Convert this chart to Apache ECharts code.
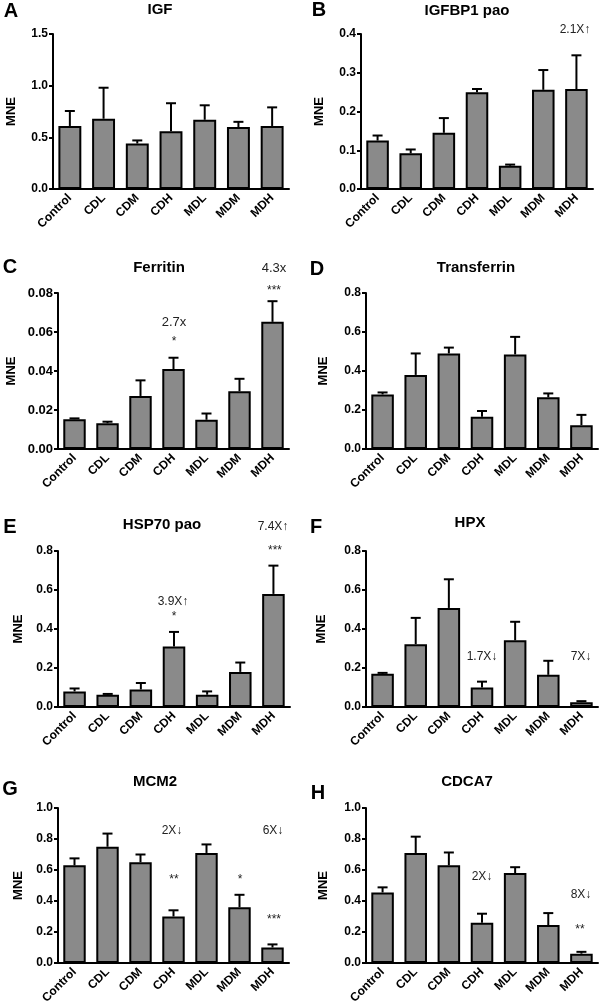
<!DOCTYPE html>
<html>
<head>
<meta charset="utf-8">
<title>MNE panels</title>
<script src="https://cdn.jsdelivr.net/npm/echarts@6/dist/echarts.min.js"></script>
<style>
  html, body { margin: 0; padding: 0; background: #fff; }
  #main { width: 600px; height: 1008px; }
</style>
</head>
<body>
<div id="main"></div>
<script>
// groups on the x axis
var categories = ['Control', 'CDL', 'CDM', 'CDH', 'MDL', 'MDM', 'MDH'];

// bar heights (mean) and top of error bar
var igfMean = [0.61, 0.68, 0.44, 0.56, 0.67, 0.60, 0.61];
var igfTop = [0.755, 0.98, 0.47, 0.83, 0.81, 0.65, 0.79];

var igfbp1Mean = [0.125, 0.092, 0.145, 0.250, 0.060, 0.256, 0.258];
var igfbp1Top = [0.138, 0.102, 0.183, 0.258, 0.063, 0.307, 0.345];

var ferritinMean = [0.0153, 0.0132, 0.0272, 0.0410, 0.0150, 0.0296, 0.0652];
var ferritinTop = [0.0157, 0.0140, 0.0352, 0.0468, 0.0182, 0.0360, 0.0758];

var transferrinMean = [0.28, 0.38, 0.49, 0.165, 0.485, 0.265, 0.122];
var transferrinTop = [0.29, 0.49, 0.52, 0.195, 0.575, 0.285, 0.175];

var hsp70Mean = [0.080, 0.063, 0.090, 0.310, 0.063, 0.180, 0.580];
var hsp70Top = [0.095, 0.067, 0.123, 0.385, 0.080, 0.228, 0.725];

var hpxMean = [0.170, 0.322, 0.508, 0.100, 0.342, 0.165, 0.025];
var hpxTop = [0.175, 0.457, 0.655, 0.130, 0.437, 0.237, 0.030];

var mcm2Mean = [0.63, 0.75, 0.65, 0.30, 0.71, 0.36, 0.10];
var mcm2Top = [0.675, 0.835, 0.70, 0.34, 0.765, 0.44, 0.12];

var cdca7Mean = [0.455, 0.71, 0.63, 0.26, 0.58, 0.245, 0.06];
var cdca7Top = [0.488, 0.815, 0.713, 0.318, 0.618, 0.322, 0.072];

// y axis scales
var yMax = [1.5, 0.4, 0.08, 0.8, 0.8, 0.8, 1.0, 1.0];
var yStep = [0.5, 0.1, 0.02, 0.2, 0.2, 0.2, 0.2, 0.2];
var yDecimals = [1, 1, 2, 1, 1, 1, 1, 1];

var titles = ['IGF', 'IGFBP1 pao', 'Ferritin', 'Transferrin', 'HSP70 pao', 'HPX', 'MCM2', 'CDCA7'];
var letters = ['A', 'B', 'C', 'D', 'E', 'F', 'G', 'H'];

var means = [igfMean, igfbp1Mean, ferritinMean, transferrinMean, hsp70Mean, hpxMean, mcm2Mean, cdca7Mean];
var tops = [igfTop, igfbp1Top, ferritinTop, transferrinTop, hsp70Top, hpxTop, mcm2Top, cdca7Top];

// layout of each panel: plot box left, top, width, height
var boxes = [
  [53, 34, 236, 155],
  [361, 34, 232, 155],
  [58, 293, 231, 156],
  [366, 293, 232, 156],
  [58, 551, 232, 156],
  [366, 551, 232, 156],
  [58, 808, 231, 155],
  [366, 808, 232, 155]
];
var nameGaps = [35, 35, 40, 36, 33, 38, 33, 36];
var tickFont = [12, 12, 13, 12, 12, 12, 12, 12];
var letterPos = [[11, 11], [319, 10], [10, 267], [317, 269], [10, 527], [316, 527], [10, 789], [318, 793]];
var titlePos = [[160, 10], [467, 11], [159, 268], [476, 268], [162, 525], [470, 523], [155, 782], [467, 782]];

// fold-change and significance notes: [x, y, text, size]
var notes = [
  [575, 30, '2.1X\u2191', 12],
  [274, 268, '4.3x', 13], [274, 291, '***', 12], [174, 322, '2.7x', 13], [174, 342, '*', 12],
  [273, 527, '7.4X\u2191', 12], [275, 551, '***', 12], [173, 602, '3.9X\u2191', 12], [174, 617, '*', 12],
  [482, 657, '1.7X\u2193', 12], [581, 657, '7X\u2193', 12],
  [172, 831, '2X\u2193', 12], [273, 831, '6X\u2193', 12], [174, 880, '**', 12], [240, 880, '*', 12], [274, 920, '***', 12],
  [482, 877, '2X\u2193', 12], [581, 895, '8X\u2193', 12], [580, 930, '**', 12]
];

var font = '"Liberation Sans", Arial, sans-serif';

var grids = [], xAxes = [], yAxes = [], series = [], graphics = [];

for (var i = 0; i < 8; i++) {
  var b = boxes[i];
  grids.push({ left: b[0], top: b[1], width: b[2], height: b[3], containLabel: false });
  xAxes.push({
    type: 'category',
    gridIndex: i,
    data: categories,
    axisLine: { lineStyle: { color: '#000', width: 2 } },
    axisTick: { alignWithLabel: true, length: 5, lineStyle: { color: '#000', width: 2 } },
    axisLabel: {
      interval: 0, rotate: 45, margin: 7, color: '#000',
      fontFamily: font, fontWeight: 'bold', fontSize: 12
    },
    splitLine: { show: false }
  });
  (function (dec) {
    yAxes.push({
      type: 'value',
      gridIndex: i,
      min: 0,
      max: yMax[i],
      interval: yStep[i],
      name: 'MNE',
      nameLocation: 'middle',
      nameGap: nameGaps[i],
      nameRotate: 90,
      nameTextStyle: { color: '#000', fontFamily: font, fontWeight: 'bold', fontSize: 13 },
      axisLine: { show: true, lineStyle: { color: '#000', width: 2 } },
      axisTick: { show: true, length: 4, lineStyle: { color: '#000', width: 2 } },
      axisLabel: {
        margin: 5, color: '#000', fontFamily: font, fontWeight: 'bold', fontSize: tickFont[i],
        formatter: function (v) { return v.toFixed(dec); }
      },
      splitLine: { show: false }
    });
  })(yDecimals[i]);

  series.push({
    type: 'bar',
    xAxisIndex: i,
    yAxisIndex: i,
    data: means[i],
    barWidth: '68%',
    itemStyle: { color: '#8a8a8a', borderColor: '#000', borderWidth: 2 },
    z: 3
  });

  (function (m, t) {
    series.push({
      type: 'custom',
      xAxisIndex: i,
      yAxisIndex: i,
      data: t.map(function (v, k) { return [k, m[k], v]; }),
      z: 2,
      renderItem: function (params, api) {
        var base = api.coord([api.value(0), api.value(1)]);
        var top = api.coord([api.value(0), api.value(2)]);
        var x = base[0];
        var st = { stroke: '#000', lineWidth: 2 };
        return {
          type: 'group',
          children: [
            { type: 'line', shape: { x1: x, y1: base[1], x2: x, y2: top[1] }, style: st },
            { type: 'line', shape: { x1: x - 5, y1: top[1], x2: x + 5, y2: top[1] }, style: st }
          ]
        };
      }
    });
  })(means[i], tops[i]);

  graphics.push({
    type: 'text', x: letterPos[i][0], y: letterPos[i][1],
    style: { text: letters[i], font: 'bold 20px ' + font, fill: '#000', textAlign: 'center', textVerticalAlign: 'middle' }
  });
  graphics.push({
    type: 'text', x: titlePos[i][0], y: titlePos[i][1],
    style: { text: titles[i], font: 'bold 15px ' + font, fill: '#000', textAlign: 'center', textVerticalAlign: 'middle' }
  });
}

notes.forEach(function (n) {
  graphics.push({
    type: 'text', x: n[0], y: n[1],
    style: { text: n[2], font: n[3] + 'px ' + font, fill: '#222', textAlign: 'center', textVerticalAlign: 'middle' }
  });
});

var chart = echarts.init(document.getElementById('main'));
chart.setOption({
  animation: false,
  backgroundColor: '#fff',
  grid: grids,
  xAxis: xAxes,
  yAxis: yAxes,
  series: series,
  graphic: graphics
});
</script>
</body>
</html>
